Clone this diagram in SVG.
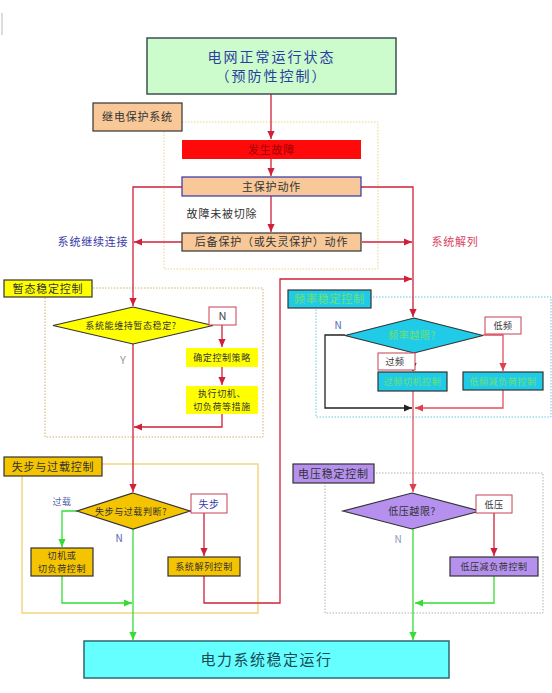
<svg xmlns="http://www.w3.org/2000/svg" width="552" height="693" viewBox="0 0 552 693">
<defs>
<marker id="ar" viewBox="0 0 10 10" refX="10" refY="5" markerWidth="8" markerHeight="8" markerUnits="userSpaceOnUse" orient="auto"><path d="M0,0.5 L10,5 L0,9.5 z" fill="#d0203a"/></marker>
<marker id="ap" viewBox="0 0 10 10" refX="10" refY="5" markerWidth="8" markerHeight="8" markerUnits="userSpaceOnUse" orient="auto"><path d="M0,0.5 L10,5 L0,9.5 z" fill="#e0404e"/></marker>
<marker id="ag" viewBox="0 0 10 10" refX="10" refY="5" markerWidth="8" markerHeight="8" markerUnits="userSpaceOnUse" orient="auto"><path d="M0,0.5 L10,5 L0,9.5 z" fill="#33dd33"/></marker>
<marker id="ak" viewBox="0 0 10 10" refX="10" refY="5" markerWidth="8" markerHeight="8" markerUnits="userSpaceOnUse" orient="auto"><path d="M0,0.5 L10,5 L0,9.5 z" fill="#222"/></marker>
</defs>
<style>
text{font-family:"Noto Sans CJK SC","Noto Sans",sans-serif;text-anchor:middle;fill:#333}
.t11{font-size:11px;letter-spacing:0.8px}
.t9{font-size:9px;letter-spacing:0.6px}
.t10{font-size:10px;letter-spacing:0.6px}
.bx{stroke:#333;stroke-width:1.2}
.peach{fill:#f8c898}
.yel{fill:#ffff00}
.gold{fill:#f5c400}
.cyan{fill:#20cbe8}
.pur{fill:#b590ee}
.wb{fill:#fff;stroke:#c84050;stroke-width:1}
.reg{fill:none;stroke-width:1;stroke-dasharray:1.5 1.5}
.r{fill:none;stroke:#d0203a;stroke-width:1.3}
.p{fill:none;stroke:#e0505e;stroke-width:1.3}
.g{fill:none;stroke:#33dd33;stroke-width:1.3}
.k{fill:none;stroke:#222;stroke-width:1.3}
.gt{fill:#70e070}
</style>
<line x1="2" y1="13" x2="2" y2="35" stroke="#bbb" stroke-width="1"/>

<!-- regions -->
<rect class="reg" x="164" y="122" width="214" height="147" stroke="#e6d688"/>
<rect class="reg" x="45" y="288" width="218" height="149" stroke="#d4b070"/>
<rect class="reg" x="316" y="297" width="235" height="120" stroke="#66c8e0"/>
<rect x="22" y="464" width="236" height="149" fill="none" stroke="#f2d680" stroke-width="1.5"/>
<rect class="reg" x="325" y="473" width="218" height="140" stroke="#b0b0b0"/>

<g id="connectors">
<path class="r" d="M271,94 V139" marker-end="url(#ar)"/>
<path class="r" d="M271,159 V176" marker-end="url(#ar)"/>
<path class="r" d="M271,196 V232" marker-end="url(#ar)"/>
<path class="r" d="M182,187 H133 V306" marker-end="url(#ar)"/>
<path class="r" d="M361,187 H413 V317" marker-end="url(#ar)"/>
<path class="r" d="M182,242 H134" marker-end="url(#ar)"/>
<path class="r" d="M362,242 H412" marker-end="url(#ar)"/>
<path class="r" d="M222,325 V347" marker-end="url(#ar)"/>
<path class="r" d="M222,367 V385" marker-end="url(#ar)"/>
<path class="r" d="M222,414 V427 H134" marker-end="url(#ar)"/>
<path class="r" d="M133,344 V492" marker-end="url(#ar)"/>
<path class="r" d="M190,511 H204 V556" marker-end="url(#ar)"/>
<path class="r" d="M204,576 V603 H280 V279 H412" marker-end="url(#ar)"/>
<path class="g" d="M77,511 H62 V547" marker-end="url(#ag)"/>
<path class="g" d="M62,576 V603 H132" marker-end="url(#ag)"/>
<path class="g" d="M133,529 V640" marker-end="url(#ag)"/>
<path class="k" d="M345,335 H325 V408 H412" marker-end="url(#ak)"/>
<path class="k" d="M413,353 V371" marker-end="url(#ak)"/>
<path class="p" d="M483,335 H503 V371" marker-end="url(#ap)"/>
<path class="p" d="M503,390 V408 H415" marker-end="url(#ap)"/>
<path class="p" d="M413,391 V492" marker-end="url(#ap)"/>
<path class="r" d="M480,511 H494 V556" marker-end="url(#ar)"/>
<path class="g" d="M494,576 V603 H415" marker-end="url(#ag)"/>
<path class="g" d="M413,529 V640" marker-end="url(#ag)"/>
</g>

<g id="n-top">
<rect x="147" y="38" width="249" height="56" fill="#ccfccc" stroke="#3c5050" stroke-width="1.5"/>
<text x="271.5" y="62" style="font-size:14px;letter-spacing:2px;fill:#2a3fa0">电网正常运行状态</text>
<text x="271.5" y="81" style="font-size:14px;letter-spacing:2px;fill:#2a3fa0">（预防性控制）</text>
</g>
<g id="n-relay-label">
<rect class="bx peach" x="93" y="103" width="89" height="28"/>
<text class="t11" x="137.5" y="121">继电保护系统</text>
</g>
<g id="n-fault">
<rect x="182" y="140" width="179" height="19" fill="#ff0a0a"/>
<text class="t11" x="271.5" y="153.5" style="fill:#a00000">发生故障</text>
</g>
<g id="n-main">
<rect class="peach" x="182" y="177" width="179" height="19" stroke="#3333aa" stroke-width="1.2"/>
<text class="t11" x="271.5" y="190.5">主保护动作</text>
</g>
<g id="n-notcleared">
<text class="t11" x="222" y="218">故障未被切除</text>
</g>
<g id="n-backup">
<rect class="bx peach" x="182" y="233" width="179" height="18"/>
<text class="t11" x="271.5" y="246">后备保护（或失灵保护）动作</text>
</g>
<g id="n-continue">
<text class="t11" x="93" y="246" style="fill:#3a3aa8">系统继续连接</text>
</g>
<g id="n-split">
<text class="t11" x="455" y="246" style="fill:#d84466">系统解列</text>
</g>

<g id="n-transient-label">
<rect class="bx yel" x="4" y="280" width="88" height="17"/>
<text class="t11" x="48" y="292.5">暂态稳定控制</text>
</g>
<g id="n-transient-q">
<polygon class="bx yel" points="133,307 213,325.5 133,344 53,325.5"/>
<text class="t9" x="131" y="329">系统能维持暂态稳定?</text>
</g>
<g id="n-N1">
<rect class="wb" x="209" y="307" width="27" height="18"/>
<text x="222.5" y="320" style="font-size:11px;fill:#444">N</text>
</g>
<text x="123" y="364" style="font-size:11px;fill:#999">Y</text>
<g id="n-strategy">
<rect class="yel" x="186" y="348" width="72" height="19"/>
<text class="t9" x="222" y="361">确定控制策略</text>
</g>
<g id="n-execute">
<rect class="yel" x="186" y="386" width="72" height="28"/>
<text class="t9" x="222" y="397">执行切机、</text>
<text class="t9" x="222" y="410">切负荷等措施</text>
</g>

<g id="n-step-label">
<rect class="bx gold" x="4" y="457" width="98" height="19"/>
<text class="t11" x="53" y="470.5">失步与过载控制</text>
</g>
<g id="n-step-q">
<polygon class="bx gold" points="133,493 190,511 133,529 77,511"/>
<text class="t9" x="131" y="514.5">失步与过载判断?</text>
</g>
<g id="n-loss">
<rect class="wb" x="191" y="494" width="36" height="19"/>
<text class="t10" x="209" y="507.5" style="fill:#3a3aa8">失步</text>
</g>
<text class="t9" x="62" y="505" style="fill:#5566aa">过载</text>
<text x="119" y="542" style="font-size:10px;fill:#5566aa">N</text>
<g id="n-cut">
<rect class="bx gold" x="31" y="548" width="62" height="28"/>
<text class="t9" x="62" y="559">切机或</text>
<text class="t9" x="62" y="572">切负荷控制</text>
</g>
<g id="n-splitctl">
<rect class="bx gold" x="168" y="557" width="72" height="19"/>
<text class="t9" x="204" y="570">系统解列控制</text>
</g>

<g id="n-freq-label">
<rect class="bx cyan" x="288" y="290" width="83" height="18"/>
<text class="t11 gt" x="329.5" y="303">频率稳定控制</text>
</g>
<g id="n-freq-q">
<polygon class="bx cyan" points="414,318 483,335.5 414,353 345,335.5"/>
<text class="t10 gt" x="412" y="339">频率越限?</text>
</g>
<text x="338" y="329" style="font-size:10px;fill:#5566aa">N</text>
<g id="n-lowf">
<rect class="wb" x="485" y="317" width="36" height="17"/>
<text class="t9" x="503" y="329">低频</text>
</g>
<g id="n-highf">
<rect class="wb" x="378" y="353" width="37" height="17"/>
<text class="t9" x="395" y="365">过频</text>
</g>
<g id="n-highf-ctl">
<rect class="bx cyan" x="378" y="372" width="69" height="19"/>
<text class="t9 gt" x="412.5" y="385">过频切机控制</text>
</g>
<g id="n-lowf-ctl">
<rect class="bx cyan" x="463" y="372" width="80" height="18"/>
<text class="t9 gt" x="503" y="385">低频减负荷控制</text>
</g>

<g id="n-volt-label">
<rect class="bx pur" x="293" y="464" width="81" height="19"/>
<text class="t11" x="333.5" y="477.5">电压稳定控制</text>
</g>
<g id="n-volt-q">
<polygon class="bx pur" points="412,493 480,511 412,529 343,511"/>
<text class="t10" x="412" y="515">低压越限?</text>
</g>
<g id="n-lowv">
<rect class="wb" x="476" y="495" width="36" height="18"/>
<text class="t9" x="494" y="507.5">低压</text>
</g>
<text x="398" y="543" style="font-size:10px;fill:#8899bb">N</text>
<g id="n-lowv-ctl">
<rect class="bx pur" x="450" y="557" width="88" height="19"/>
<text class="t9" x="494" y="570">低压减负荷控制</text>
</g>

<g id="n-bottom">
<rect x="84" y="641" width="365" height="37" fill="#66ffff" stroke="#2a6a70" stroke-width="1.5"/>
<text x="266.5" y="665" style="font-size:15px;letter-spacing:1.5px;fill:#1a4a55">电力系统稳定运行</text>
</g>
</svg>
